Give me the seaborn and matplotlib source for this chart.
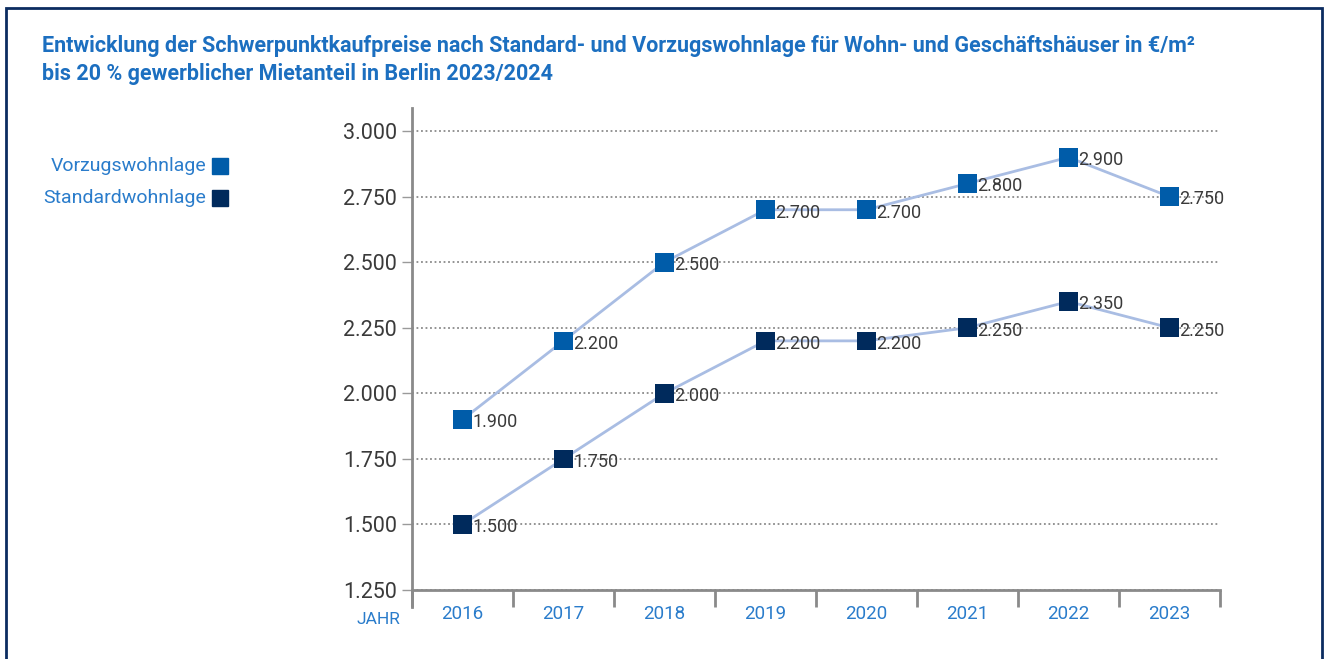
import pandas as pd
import matplotlib.pyplot as plt
import matplotlib.patches as mpatches
import seaborn as sns

# data
years = [2016, 2017, 2018, 2019, 2020, 2021, 2022, 2023]
vorzug = [1900, 2200, 2500, 2700, 2700, 2800, 2900, 2750]
standard = [1500, 1750, 2000, 2200, 2200, 2250, 2350, 2250]
series_names = ["Vorzugswohnlage", "Standardwohnlage"]
y_ticks = [1250, 1500, 1750, 2000, 2250, 2500, 2750, 3000]

title = ("Entwicklung der Schwerpunktkaufpreise nach Standard- und Vorzugswohnlage für Wohn- und Geschäftshäuser in €/m²\n"
         "bis 20 % gewerblicher Mietanteil in Berlin 2023/2024")

colors = {"Vorzugswohnlage": "#005CA9", "Standardwohnlage": "#002A5C"}
line_color = "#A9BDE3"
blue_text = "#2A7CCB"
dark_text = "#3A3A3A"

sns.set_theme(style="white")
plt.rcParams["font.family"] = ["Roboto", "DejaVu Sans"]

rows = []
for name, vals in zip(series_names, [vorzug, standard]):
    for i, (yr, v) in enumerate(zip(years, vals)):
        rows.append({"pos": i, "year": yr, "value": v, "series": name})
df = pd.DataFrame(rows)

fig = plt.figure(figsize=(13.27, 6.59), dpi=100)
ax = fig.add_axes([412 / 1327, 69 / 659, 808 / 1327, 482 / 659])

sns.lineplot(data=df, x="pos", y="value", units="series", estimator=None,
             color=line_color, linewidth=2, ax=ax, legend=False)
sns.scatterplot(data=df, x="pos", y="value", hue="series", palette=colors,
                marker="s", s=180, edgecolor="none", ax=ax, legend=False, zorder=5)

for _, r in df.iterrows():
    ax.annotate(f"{r['value']:,}".replace(",", "."), (r["pos"], r["value"]),
                xytext=(7, -2), textcoords="offset points", va="center", ha="left",
                fontsize=13, color=dark_text, zorder=6)

ax.set_xlim(-0.5, len(years) - 0.5)
ax.set_ylim(1250, 3088)
ax.set_yticks(y_ticks)
ax.set_yticklabels([f"{t:,}".replace(",", ".") for t in y_ticks], fontsize=15.5, color=dark_text)
ax.yaxis.grid(True, linestyle=(0, (1, 1.5)), color="#8A8A8A", linewidth=1.3)
ax.tick_params(axis="y", length=7, width=1.0, color="#9A9A9A", pad=4, left=True)

# category boundaries as ticks, labels in between
ax.set_xticks([i - 0.5 for i in range(len(years) + 1)])
ax.set_xticklabels([])
ax.set_xticks(range(len(years)), minor=True)
ax.set_xticklabels([str(y) for y in years], minor=True, fontsize=13.5, color=blue_text)
ax.tick_params(axis="x", which="major", length=12, width=2, color="#8A8A8A", bottom=True)
ax.tick_params(axis="x", which="minor", length=0, pad=11)
ax.set_xlabel("")
ax.set_ylabel("")

for side in ["top", "right"]:
    ax.spines[side].set_visible(False)
for side in ["left", "bottom"]:
    ax.spines[side].set_color("#8A8A8A")
    ax.spines[side].set_linewidth(2)
ax.spines["left"].set_bounds(1250 - 0.26 * 250 / 1, 3088)

fig.text(378 / 1327, 1 - 620 / 659, "JAHR", color=blue_text, fontsize=12.5,
         ha="center", va="center")

# legend drawn as text + squares on the left
for i, name in enumerate(series_names):
    yy = 1 - (166 + 32 * i) / 659
    fig.text(206 / 1327, yy, name, color=blue_text, fontsize=14, ha="right", va="center")
    fig.patches.append(mpatches.Rectangle((212 / 1327, yy - 8 / 659), 16 / 1327, 16 / 659,
                                          transform=fig.transFigure, color=colors[name]))

fig.text(42 / 1327, 1 - 35 / 659, title, color="#1C6FC0", fontsize=15.5,
         fontweight="bold", ha="left", va="top", linespacing=1.35)

# outer frame
fig.patches.append(mpatches.Rectangle((6 / 1327, -0.05), 1316 / 1327, 1.05 - 8 / 659,
                                      transform=fig.transFigure, fill=False,
                                      edgecolor="#0B2C60", linewidth=2))

fig.savefig("out.png", dpi=100)
